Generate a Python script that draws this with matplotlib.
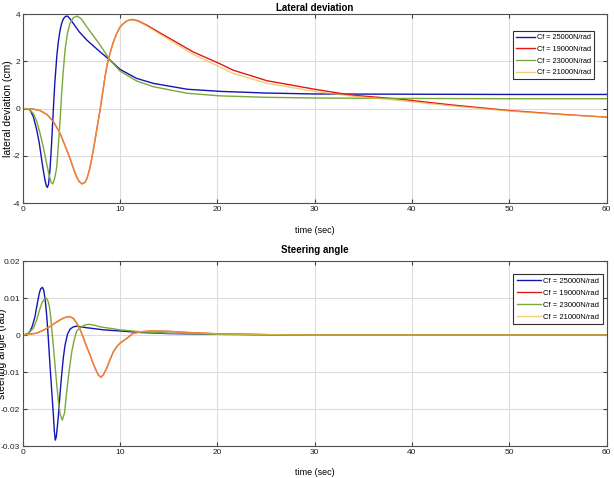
import numpy as np
import matplotlib
matplotlib.use("Agg")
import matplotlib.pyplot as plt

# ---- data ----
labels = ["Cf = 25000N/rad", "Cf = 19000N/rad", "Cf = 23000N/rad", "Cf = 21000N/rad"]

# lateral deviation (cm)
lat_blue_t = [0, 0.5, 0.75, 1.1, 1.44, 1.7, 1.95, 2.15, 2.3, 2.42, 2.53, 2.65, 2.8, 2.95, 3.15,
              3.3, 3.5, 3.65, 3.84, 4.0, 4.18, 4.4, 4.62, 4.85, 5.2, 5.8, 6.58, 7.95, 8.97, 10,
              11.7, 13.4, 16.9, 20.3, 25, 30, 40, 50, 60]
lat_blue_y = [0, 0, -0.05, -0.35, -0.9, -1.45, -2.16, -2.7, -3.05, -3.25, -3.33, -3.2, -2.6, -1.6, 0,
              1.1, 2.2, 2.8, 3.32, 3.6, 3.8, 3.9, 3.91, 3.8, 3.6, 3.25, 2.9, 2.4, 2.05, 1.66,
              1.28, 1.07, 0.82, 0.73, 0.66, 0.62, 0.61, 0.6, 0.6]

lat_green_t = [0, 0.6, 1.09, 1.45, 1.78, 2.05, 2.3, 2.55, 2.74, 2.9, 3.08, 3.25, 3.4, 3.5, 3.65,
               3.84, 4.0, 4.15, 4.35, 4.6, 4.86, 5.2, 5.61, 6.0, 6.58, 7.95, 8.97, 10, 11.7, 13.4,
               16.9, 20.3, 25, 30, 40, 50, 60]
lat_green_y = [0, -0.02, -0.2, -0.55, -1.04, -1.5, -2.0, -2.5, -2.85, -3.1, -3.18, -3.0, -2.7, -2.45, -1.6,
               -0.5, 0.65, 1.5, 2.48, 3.2, 3.6, 3.85, 3.91, 3.8, 3.46, 2.69, 2.05, 1.59, 1.17, 0.93,
               0.65, 0.54, 0.48, 0.45, 0.43, 0.42, 0.42]

lat_red_t = [0, 1.0, 1.78, 2.5, 3.15, 3.84, 4.52, 4.9, 5.2, 5.5, 5.8, 6.1, 6.4, 6.6, 6.85, 7.05,
             7.26, 7.6, 7.95, 8.2, 8.46, 8.7, 8.97, 9.3, 9.66, 10.0, 10.35, 10.7, 11.2, 11.8, 12.74,
             13.9, 15.1, 17.5, 20.3, 21.6, 25.1, 30, 33.6, 38.8, 44, 50, 55, 60]
lat_red_y = [0, -0.01, -0.08, -0.25, -0.55, -1.04, -1.74, -2.15, -2.52, -2.85, -3.08, -3.18, -3.12,
             -2.95, -2.6, -2.2, -1.74, -0.9, -0.05, 0.65, 1.35, 1.9, 2.34, 2.8, 3.18, 3.45, 3.6,
             3.71, 3.77, 3.72, 3.53, 3.25, 2.97, 2.4, 1.89, 1.63, 1.18, 0.82, 0.58, 0.40, 0.16,
             -0.08, -0.23, -0.36]

lat_yel_t = lat_red_t
lat_yel_y = [0, -0.01, -0.08, -0.25, -0.55, -1.04, -1.74, -2.15, -2.52, -2.85, -3.08, -3.18, -3.12,
             -2.95, -2.6, -2.2, -1.74, -0.9, -0.05, 0.65, 1.35, 1.9, 2.34, 2.8, 3.18, 3.45, 3.6,
             3.71, 3.76, 3.7, 3.5, 3.2, 2.90, 2.30, 1.75, 1.49, 1.07, 0.73, 0.54, 0.34, 0.12,
             -0.10, -0.24, -0.36]

# steering angle (rad)
st_blue_t = [0, 0.5, 0.75, 1.0, 1.26, 1.5, 1.7, 1.85, 2.02, 2.15, 2.3, 2.46, 2.62, 2.8, 2.98, 3.15,
             3.25, 3.35, 3.45, 3.55, 3.67, 3.83, 4.0, 4.17, 4.35, 4.6, 4.86, 5.2, 5.55, 6.5, 8.3,
             10, 12, 15, 20, 25, 30, 40, 60]
st_blue_y = [0, 0.0003, 0.001, 0.0025, 0.005, 0.0085, 0.0113, 0.0125, 0.0129, 0.0122, 0.0098, 0.0054,
             -0.0005, -0.0081, -0.015, -0.0216, -0.026, -0.0284, -0.0275, -0.025, -0.0216, -0.016,
             -0.0108, -0.0062, -0.0027, 0.0002, 0.0016, 0.0022, 0.0024, 0.002, 0.0014, 0.0011,
             0.0007, 0.0004, 0.0002, 0.0001, 0, 0, 0]

st_green_t = [0, 0.5, 1.09, 1.45, 1.78, 2.0, 2.2, 2.46, 2.62, 2.75, 2.88, 2.98, 3.15, 3.32, 3.5,
              3.67, 3.85, 4.07, 4.3, 4.52, 4.78, 5.04, 5.3, 5.55, 6.0, 6.4, 6.75, 7.3, 8, 10, 12,
              15, 20, 25, 30, 60]
st_green_y = [0, 0.0003, 0.0018, 0.0042, 0.0072, 0.0088, 0.0097, 0.0099, 0.009, 0.0075, 0.0048,
              0.0018, -0.003, -0.0081, -0.0135, -0.018, -0.0215, -0.023, -0.021, -0.0153, -0.0095,
              -0.0045, -0.0012, 0.0011, 0.0022, 0.0027, 0.0029, 0.0027, 0.0022, 0.0014, 0.0009,
              0.0005, 0.0002, 0.0001, 0, 0]

st_red_t = [0, 1.44, 2.2, 2.8, 3.3, 3.84, 4.3, 4.79, 5.2, 5.55, 5.9, 6.2, 6.55, 6.92, 7.25, 7.6,
            7.8, 8.05, 8.3, 8.63, 8.95, 9.3, 9.65, 10, 10.7, 11.3, 12.2, 13.1, 15, 16.85, 20.3,
            25, 30, 60]
st_red_y = [0, 0.0005, 0.0014, 0.0023, 0.0032, 0.0041, 0.0047, 0.005, 0.0045, 0.0032, 0.0015,
            -0.0005, -0.003, -0.0054, -0.0078, -0.0099, -0.0109, -0.0114, -0.0107, -0.009, -0.0068,
            -0.0046, -0.0032, -0.0022, -0.0009, 0.0004, 0.0009, 0.0011, 0.001, 0.0007, 0.0003,
            0.0001, 0, 0]
st_yel_t = st_red_t
st_yel_y = st_red_y

c_blue, c_red, c_green, c_yel = "#1515b5", "#e01818", "#7aa83a", "#f0b840"

plt.rcParams['font.family'] = ["Liberation Sans", "DejaVu Sans"]

fig = plt.figure(figsize=(6.14, 4.78), dpi=100)
ax1 = fig.add_axes([0.037, 0.5747, 0.951, 0.396])
ax2 = fig.add_axes([0.037, 0.0669, 0.951, 0.387])

def style(ax, yt, ylab):
    ax.set_xlim(0, 60)
    ax.set_ylim(yt[0], yt[-1])
    ax.set_xticks([0, 10, 20, 30, 40, 50, 60])
    ax.set_yticks(yt)
    ax.set_yticklabels(["%g" % v for v in yt])
    ax.grid(True, color="#dcdcdc", linewidth=0.8)
    ax.tick_params(direction="in", top=True, right=True, labelsize=6, length=3,
                   color="#404040", labelcolor="#202020", pad=2)
    for s in ax.spines.values():
        s.set_color("#505050")
        s.set_linewidth(0.8)
    ax.set_xlabel("time (sec)", fontsize=6.5, labelpad=9)
    ax.set_ylabel(ylab, fontsize=7.5)

lw = 1.0
ax1.plot(lat_blue_t, lat_blue_y, color=c_blue, lw=lw, label=labels[0])
ax1.plot(lat_red_t, lat_red_y, color=c_red, lw=lw, label=labels[1])
ax1.plot(lat_green_t, lat_green_y, color=c_green, lw=lw, label=labels[2])
ax1.plot(lat_yel_t, lat_yel_y, color=c_yel, lw=lw, alpha=0.7, label=labels[3])
style(ax1, [-4, -2, 0, 2, 4], "lateral deviation (cm)")
ax1.yaxis.set_label_coords(-0.0166, 0.5)
ax1.set_title("Lateral deviation", fontsize=7, fontweight="bold", pad=2.5)
leg1 = ax1.legend(loc="upper right", bbox_to_anchor=(0.985, 0.93), fontsize=5.3,
                  fancybox=False, edgecolor="#303030", framealpha=1, handlelength=2.5,
                  borderpad=0.45, labelspacing=0.6, handletextpad=0.3)
leg1.get_frame().set_linewidth(0.8)

ax2.plot(st_blue_t, st_blue_y, color=c_blue, lw=lw, label=labels[0])
ax2.plot(st_red_t, st_red_y, color=c_red, lw=lw, label=labels[1])
ax2.plot(st_green_t, st_green_y, color=c_green, lw=lw, label=labels[2])
ax2.plot(st_yel_t, st_yel_y, color=c_yel, lw=lw, alpha=0.7, label=labels[3])
style(ax2, [-0.03, -0.02, -0.01, 0, 0.01, 0.02], "steering angle (rad)")
ax2.yaxis.set_label_coords(-0.027, 0.5)
ax2.set_title("Steering angle", fontsize=7, fontweight="bold", pad=6)
leg2 = ax2.legend(loc="upper right", bbox_to_anchor=(1.0, 0.95), fontsize=5.5,
                  fancybox=False, edgecolor="#303030", framealpha=1, handlelength=3.2,
                  borderpad=0.45, labelspacing=0.6, handletextpad=0.3)
leg2.get_frame().set_linewidth(0.8)

fig.savefig("out.png", dpi=100)
